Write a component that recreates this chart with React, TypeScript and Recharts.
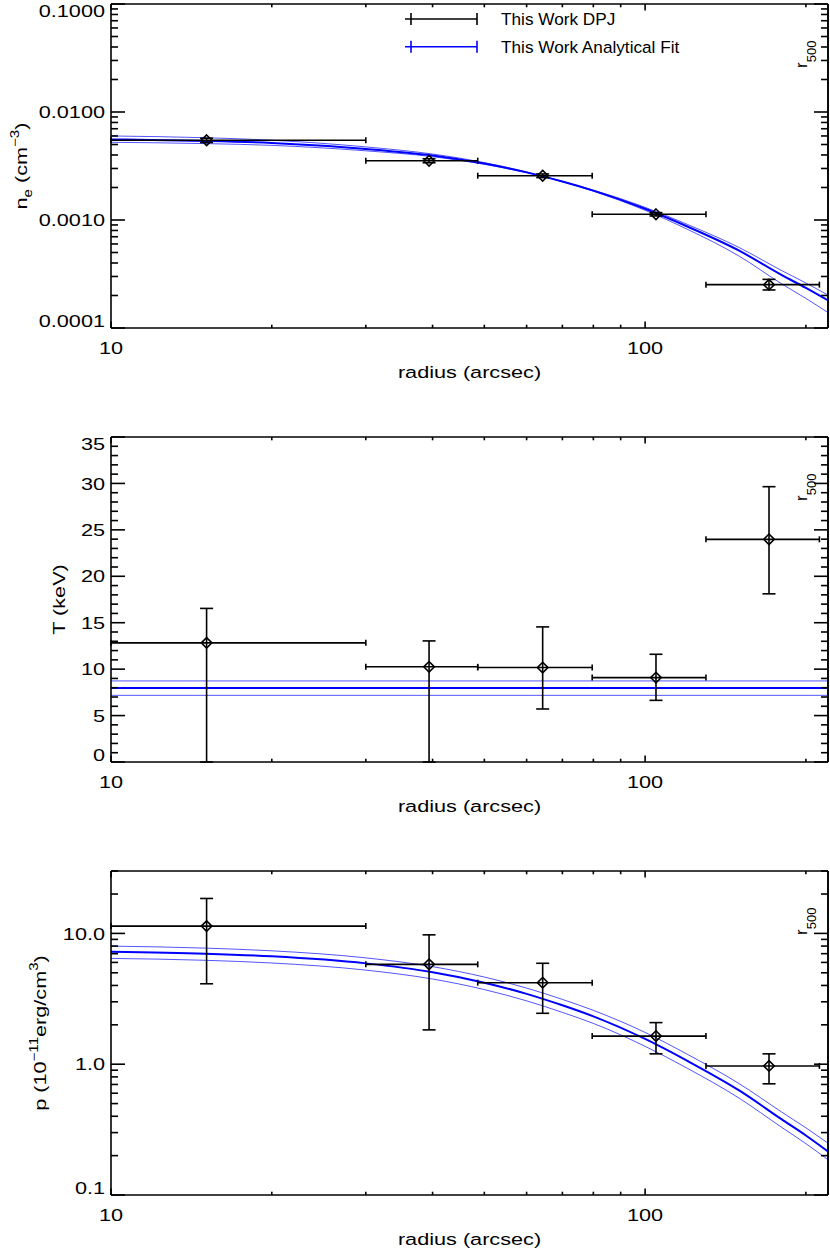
import React from 'react'
import { ComposedChart, Line, Scatter, XAxis, YAxis, ErrorBar, ReferenceLine, Legend } from 'recharts'

// measured bins (arcsec)
const radius = [15.1, 39.4, 64.3, 104.8, 170.6]
const binLow = [10, 30, 48.6, 79.6, 130]
const binHigh = [30, 48.6, 79.6, 130, 212]

// electron density (cm^-3)
const neValue = [0.00547, 0.00354, 0.00257, 0.00113, 0.000252]
const neLow = [0.00522, 0.00339, 0.00247, 0.00109, 0.000225]
const neHigh = [0.00572, 0.00369, 0.00267, 0.00117, 0.000282]

// temperature (keV)
const tValue = [12.83, 10.25, 10.17, 9.09, 23.98]
const tLow = [0, 0, 5.71, 6.64, 18.11]
const tHigh = [16.54, 13.04, 14.55, 11.6, 29.65]

// pressure (1e-11 erg/cm^3)
const pValue = [11.37, 5.8, 4.2, 1.64, 0.97]
const pLow = [4.12, 1.83, 2.45, 1.2, 0.708]
const pHigh = [18.5, 9.75, 5.91, 2.08, 1.2]

// analytical fit curves
const fitRadius = [10, 15, 20, 30, 40, 50, 60, 70, 80, 100, 120, 150, 180, 200, 220]
const neFit = [0.00557, 0.0054, 0.00517, 0.00455, 0.00396, 0.00333, 0.00276, 0.00227, 0.00187, 0.00127, 0.00087, 0.00052, 0.00031, 0.000235, 0.00018]
const neFitA = [0.006, 0.00578, 0.00548, 0.00475, 0.00408, 0.0034, 0.00279, 0.00227, 0.00185, 0.00123, 0.00082, 0.000463, 0.000257, 0.000188, 0.000139]
const neFitB = [0.00524, 0.0051, 0.00491, 0.00437, 0.00386, 0.00328, 0.00275, 0.00227, 0.00189, 0.00131, 0.00091, 0.000556, 0.000341, 0.000261, 0.000202]

const tFitRadius = [10, 220]
const tFit = [7.97, 7.97]
const tFitHi = [8.73, 8.73]
const tFitLo = [7.18, 7.18]

const pFit = [7.24, 7.0, 6.68, 5.9, 5.05, 4.2, 3.45, 2.82, 2.32, 1.56, 1.06, 0.63, 0.38, 0.285, 0.215]
const pFitHi = [8.0, 7.72, 7.36, 6.5, 5.57, 4.64, 3.82, 3.13, 2.58, 1.75, 1.19, 0.71, 0.432, 0.326, 0.249]
const pFitLo = [6.44, 6.23, 5.94, 5.24, 4.48, 3.72, 3.05, 2.49, 2.05, 1.37, 0.93, 0.55, 0.33, 0.247, 0.186]

// ticks
const xTicks = [10, 20, 30, 40, 50, 60, 70, 80, 90, 100, 200]
const xMajors = [10, 100]
const neMajors = [0.0001, 0.001, 0.01, 0.1]
const pMajors = [0.1, 1, 10]
const tMajors = [0, 5, 10, 15, 20, 25, 30, 35]
const legendItems = [
  { label: 'This Work DPJ', color: '#000000' },
  { label: 'This Work Analytical Fit', color: '#0000ff' },
]

const logTicks = (majors: number[], top: number) => {
  const out: number[] = []
  majors.forEach((m) => {
    for (let k = 1; k <= 9; k++) if (m * k <= top * 1.0000001) out.push(m * k)
  })
  return out
}
const neTicks = logTicks(neMajors, 0.1)
const pTicks = logTicks(pMajors, 30)
const tTicks = Array.from({ length: 36 }, (_, i) => i)

const FONT = '"Liberation Sans", Arial, Helvetica, sans-serif'
const FS = 17.2
const STRETCH = 1.26
const INK = '#000'
const BLUE = '#0000ff'

const near = (a: number, b: number) => Math.abs(a - b) <= 1e-9 + 1e-6 * Math.abs(b)

const points = (vals: number[], lows: number[], highs: number[]) =>
  radius.map((r, i) => ({
    x: r,
    y: vals[i],
    xErr: [r - binLow[i], binHigh[i] - r],
    yErr: [vals[i] - lows[i], highs[i] - vals[i]],
  }))

const curve = (rs: number[], mid: number[], hi: number[], lo: number[]) =>
  rs.map((r, i) => ({ x: r, mid: mid[i], hi: hi[i], lo: lo[i] }))

const makeYTick = (majors: number[], fmt: (v: number) => string, side: 'left' | 'right', lo: number, hi: number) =>
  (props: any) => {
    const { x, y, payload } = props
    const v = payload.value
    const major = majors.some((m) => near(v, m))
    const len = major ? 14 : 7
    const dir = side === 'left' ? 1 : -1
    let shift = 0
    if (near(v, hi)) shift = 7
    if (near(v, lo)) shift = -7
    return (
      <g>
        <line x1={x} y1={y} x2={x + dir * len} y2={y} stroke={INK} strokeWidth={1.6} />
        {major && side === 'left' && (
          <text transform={`translate(${x - 6},${y + shift}) scale(${STRETCH},1)`} textAnchor="end" dy="0.36em" fontFamily={FONT} fontSize={FS} fill={INK}>
            {fmt(v)}
          </text>
        )}
      </g>
    )
  }

const makeXTick = (side: 'bottom' | 'top') => (props: any) => {
  const { x, y, payload } = props
  const v = payload.value
  const major = xMajors.some((m) => near(v, m))
  const len = major ? 6.5 : 3.3
  const dir = side === 'bottom' ? -1 : 1
  return (
    <g>
      <line x1={x} y1={y} x2={x} y2={y + dir * len} stroke={INK} strokeWidth={1.6} />
      {major && side === 'bottom' && (
        <text transform={`translate(${x},${y + 26}) scale(${STRETCH},1)`} textAnchor="middle" fontFamily={FONT} fontSize={FS} fill={INK}>
          {String(v)}
        </text>
      )}
    </g>
  )
}

const xTitle = (props: any) => {
  const vb = props.viewBox
  return (
    <text transform={`translate(${vb.x + vb.width / 2},${vb.y + 50}) scale(${STRETCH},1)`} textAnchor="middle" fontFamily={FONT} fontSize={FS} fill={INK}>
      radius (arcsec)
    </text>
  )
}

const makeYTitle = (content: React.ReactNode, bx: number) => (props: any) => {
  const vb = props.viewBox
  return (
    <text transform={`translate(${bx},${vb.y + vb.height / 2}) rotate(-90) scale(${STRETCH},1)`} textAnchor="middle" fontFamily={FONT} fontSize={FS} fill={INK}>
      {content}
    </text>
  )
}

const r500Label = (props: any) => {
  const vb = props.viewBox
  return (
    <text transform={`translate(${vb.x - 21},${vb.y + 64}) rotate(-90)`} textAnchor="start" fontFamily={FONT} fontSize={17} fill={INK}>
      r<tspan fontSize={13} dy={9}>500</tspan>
    </text>
  )
}

const Diamond = (props: any) => {
  const { cx, cy } = props
  const s = 5.3
  return <path d={`M${cx},${cy - s}L${cx + s},${cy}L${cx},${cy + s}L${cx - s},${cy}Z`} fill="none" stroke={INK} strokeWidth={1.6} />
}

const LegendBox = () => (
  <svg width={330} height={56}>
    {legendItems.map((it, i) => {
      const y = 14 + i * 27.7
      return (
        <g key={it.label}>
          <line x1={5} y1={y} x2={77} y2={y} stroke={it.color} strokeWidth={1.6} />
          <line x1={11} y1={y - 6} x2={11} y2={y + 6} stroke={it.color} strokeWidth={1.6} />
          <line x1={77} y1={y - 6} x2={77} y2={y + 6} stroke={it.color} strokeWidth={1.6} />
          <text x={101} y={y + 6} fontFamily={FONT} fontSize={FS} fill={INK}>
            {it.label}
          </text>
        </g>
      )
    })}
  </svg>
)

type PanelProps = {
  top: number
  plotH: number
  pts: any[]
  fit: any[]
  yScale: 'log' | 'linear'
  yDomain: [number, number]
  yTicks: number[]
  yMajors: number[]
  yFmt: (v: number) => string
  title: React.ReactNode
  titleX: number
  legend?: boolean
}

const axisLine = { stroke: INK, strokeWidth: 1.6 }

function Panel(p: PanelProps) {
  const h = 4 + p.plotH + 56
  const [lo, hi] = p.yDomain
  return (
    <div style={{ position: 'absolute', left: 0, top: p.top, width: 830, height: h }}>
      <ComposedChart width={830} height={h} margin={{ top: 3, right: 1, bottom: 0, left: 0 }} style={{ fontFamily: FONT }}>
        <XAxis xAxisId="b" dataKey="x" type="number" scale="log" domain={[10, 220]} allowDataOverflow ticks={xTicks} interval={0}
          tickSize={0} tickMargin={0} tickLine={false} axisLine={axisLine} tick={makeXTick('bottom')} height={56} label={xTitle} />
        <XAxis xAxisId="t" orientation="top" dataKey="x" type="number" scale="log" domain={[10, 220]} allowDataOverflow ticks={xTicks} interval={0}
          tickSize={0} tickMargin={0} tickLine={false} axisLine={axisLine} tick={makeXTick('top')} height={1} />
        <YAxis yAxisId="l" dataKey="y" type="number" scale={p.yScale} domain={p.yDomain} allowDataOverflow ticks={p.yTicks} interval={0}
          tickSize={0} tickMargin={0} tickLine={false} axisLine={axisLine} width={111}
          tick={makeYTick(p.yMajors, p.yFmt, 'left', lo, hi)} label={makeYTitle(p.title, p.titleX)} />
        <YAxis yAxisId="r" orientation="right" dataKey="y" type="number" scale={p.yScale} domain={p.yDomain} allowDataOverflow ticks={p.yTicks} interval={0}
          tickSize={0} tickMargin={0} tickLine={false} axisLine={axisLine} width={1}
          tick={makeYTick(p.yMajors, p.yFmt, 'right', lo, hi)} />
        <Line xAxisId="b" yAxisId="l" data={p.fit} dataKey="hi" type="monotone" stroke={BLUE} strokeWidth={0.9} strokeOpacity={0.75} dot={false} activeDot={false} isAnimationActive={false} />
        <Line xAxisId="b" yAxisId="l" data={p.fit} dataKey="lo" type="monotone" stroke={BLUE} strokeWidth={0.9} strokeOpacity={0.75} dot={false} activeDot={false} isAnimationActive={false} />
        <Line xAxisId="b" yAxisId="l" data={p.fit} dataKey="mid" type="monotone" stroke={BLUE} strokeWidth={2} dot={false} activeDot={false} isAnimationActive={false} />
        <Scatter xAxisId="b" yAxisId="l" data={p.pts} dataKey="y" shape={Diamond} isAnimationActive={false}>
          <ErrorBar dataKey="xErr" direction="x" width={3} stroke={INK} strokeWidth={1.6} />
          <ErrorBar dataKey="yErr" direction="y" width={6.5} stroke={INK} strokeWidth={1.6} />
        </Scatter>
        <ReferenceLine xAxisId="b" yAxisId="l" x={220} stroke={INK} strokeWidth={1.6} label={r500Label} />
        {p.legend && (
          <Legend layout="horizontal" align="center" verticalAlign="middle" content={LegendBox}
            wrapperStyle={{ position: 'absolute', left: 400, top: 5, width: 330, height: 56 }} />
        )}
      </ComposedChart>
    </div>
  )
}

const SUB = 12

export default function App() {
  return (
    <div style={{ position: 'absolute', left: 0, top: 0, width: 830, height: 1254, background: '#fff' }}>
      <Panel
        top={0}
        plotH={324}
        pts={points(neValue, neLow, neHigh)}
        fit={curve(fitRadius, neFit, neFitA, neFitB)}
        yScale="log"
        yDomain={[0.0001, 0.1]}
        yTicks={neTicks}
        yMajors={neMajors}
        yFmt={(v) => v.toFixed(4)}
        title={<>n<tspan fontSize={SUB} dy={5}>e</tspan><tspan dy={-5}> (cm</tspan><tspan fontSize={SUB} dy={-8}>−3</tspan><tspan dy={8}>)</tspan></>}
        titleX={27}
        legend
      />
      <Panel
        top={433}
        plotH={325}
        pts={points(tValue, tLow, tHigh)}
        fit={curve(tFitRadius, tFit, tFitHi, tFitLo)}
        yScale="linear"
        yDomain={[0, 35]}
        yTicks={tTicks}
        yMajors={tMajors}
        yFmt={(v) => String(v)}
        title={<>T (keV)</>}
        titleX={65}
      />
      <Panel
        top={867}
        plotH={324}
        pts={points(pValue, pLow, pHigh)}
        fit={curve(fitRadius, pFit, pFitHi, pFitLo)}
        yScale="log"
        yDomain={[0.1, 30]}
        yTicks={pTicks}
        yMajors={pMajors}
        yFmt={(v) => v.toFixed(1)}
        title={<>p (10<tspan fontSize={SUB} dy={-8}>−11</tspan><tspan dy={8}>erg/cm</tspan><tspan fontSize={SUB} dy={-8}>3</tspan><tspan dy={8}>)</tspan></>}
        titleX={46}
      />
    </div>
  )
}
